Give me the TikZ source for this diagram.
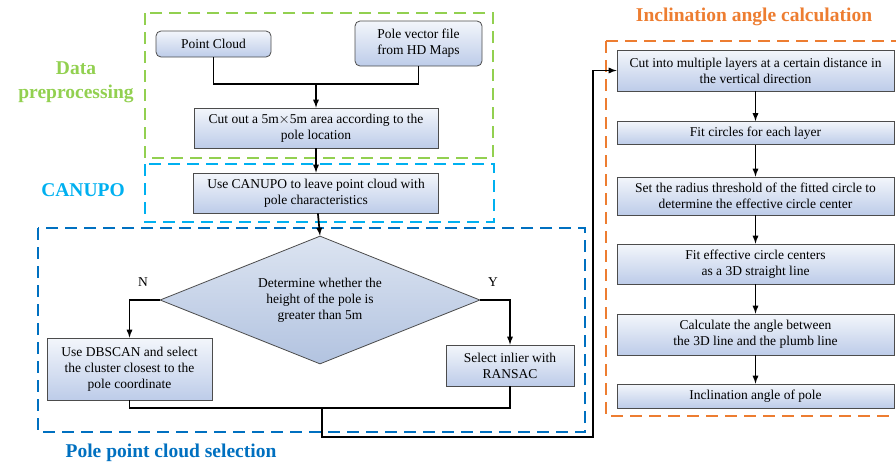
\documentclass[tikz,border=0pt]{standalone}
\usepackage{fontspec}
\setmainfont{Liberation Serif}
\usetikzlibrary{shapes.geometric,arrows}

\definecolor{prepgreen}{HTML}{92D050}
\definecolor{canupoblue}{HTML}{00B0F0}
\definecolor{selblue}{HTML}{0070C0}
\definecolor{incorange}{HTML}{ED7D31}
\definecolor{boxtop}{HTML}{F3F6FB}
\definecolor{boxbot}{HTML}{BDCCE9}
\definecolor{dectop}{HTML}{DCE4F1}
\definecolor{decbot}{HTML}{B2C3E0}

\tikzset{
    procbox/.style={draw=black!70, line width=0.8pt, rectangle, top color=boxtop, bottom color=boxbot,
        align=center, font=\fontsize{13.5}{16}\selectfont, inner sep=1pt},
    srcbox/.style={procbox, rounded corners=5pt},
    decbox/.style={draw=black!70, line width=0.8pt, diamond, shape aspect=2.5, top color=dectop, bottom color=decbot,
        align=center, font=\fontsize{13.5}{16}\selectfont, inner sep=0pt},
    flow/.style={line width=1.7pt, black},
    group/.style={line width=2.8pt, dash pattern=on 12pt off 7pt},
    grouptitle/.style={font=\fontsize{19.5}{24}\selectfont\bfseries, align=center}
}

\begin{document}
\begin{tikzpicture}[x=1pt,y=-1pt]
    \useasboundingbox (0,0) rectangle (896,464);

    % group frames
    \draw[group, prepgreen] (145,13) rectangle (493,158);
    \draw[group, canupoblue] (145,164) rectangle (494,222);
    \draw[group, selblue] (38,228) rectangle (585,432);
    \draw[group, incorange] (606,41) -- (900,41);
    \draw[group, incorange] (606,41) -- (606,416) -- (900,416);

    % group titles
    \node[grouptitle, prepgreen] (tprep) at (76,82) {Data\\preprocessing};
    \node[grouptitle, canupoblue] (tcanupo) at (83,190) {CANUPO};
    \node[grouptitle, selblue] (tsel) at (171,453) {Pole point cloud selection};
    \node[grouptitle, incorange] (tinc) at (754,17) {Inclination angle calculation};

    % left column
    \node[srcbox, minimum width=115, minimum height=26] (pc) at (213.5,44) {Point Cloud};
    \node[srcbox, minimum width=127, minimum height=45] (pv) at (418.5,43.5) {Pole vector file\\from HD Maps};
    \node[procbox, minimum width=244, minimum height=40] (cut) at (316,128) {Cut out a 5m$\times$5m area according to the\\pole location};
    \node[procbox, minimum width=245, minimum height=40] (canupo) at (316,193) {Use CANUPO to leave point cloud with\\pole characteristics};
    \node[decbox, minimum width=320, minimum height=128] (dec) at (320,300) {Determine whether the\\height of the pole is\\greater than 5m};
    \node[procbox, minimum width=165, minimum height=62] (dbscan) at (129.5,369) {Use DBSCAN and select\\the cluster closest to the\\pole coordinate};
    \node[procbox, minimum width=128, minimum height=41] (ransac) at (510,365.5) {Select inlier with\\RANSAC};
    \node[font=\fontsize{13.5}{16}\selectfont] (no) at (143,282) {N};
    \node[font=\fontsize{13.5}{16}\selectfont] (yes) at (493,282) {Y};

    % right column
    \node[procbox, minimum width=277, minimum height=41] (r1) at (755.5,70.5) {Cut into multiple layers at a certain distance in\\the vertical direction};
    \node[procbox, minimum width=277, minimum height=23] (r2) at (755.5,133) {Fit circles for each layer};
    \node[procbox, minimum width=277, minimum height=38] (r3) at (755.5,196) {Set the radius threshold of the fitted circle to\\determine the effective circle center};
    \node[procbox, minimum width=277, minimum height=40] (r4) at (755.5,264) {Fit effective circle centers\\as a 3D straight line};
    \node[procbox, minimum width=277, minimum height=41] (r5) at (755.5,334.5) {Calculate the angle between\\the 3D line and the plumb line};
    \node[procbox, minimum width=277, minimum height=24] (r6) at (755.5,396) {Inclination angle of pole};

    \coordinate (tjoin) at (316,84);
    \coordinate (bjoin) at (322,408);
    \coordinate (lowturn) at (593,437);

    % connectors
    \draw[flow] (pc.south) |- (tjoin) -| (pv.south);
    \draw[flow, -latex] (tjoin) -- (cut.north);
    \draw[flow, -latex] (cut.south) -- (canupo.north);
    \draw[flow, -latex] (canupo) -- (dec.north);
    \draw[flow, -latex] (dec.west) -| (dbscan.north);
    \draw[flow, -latex] (dec.east) -| (ransac.north);
    \draw[flow] (dbscan.south) |- (bjoin) -| (ransac.south);
    \draw[flow, -latex] (bjoin) |- (lowturn) |- (r1.west);
    \draw[flow, -latex] (r1) -- (r2);
    \draw[flow, -latex] (r2) -- (r3);
    \draw[flow, -latex] (r3) -- (r4);
    \draw[flow, -latex] (r4) -- (r5);
    \draw[flow, -latex] (r5) -- (r6);
\end{tikzpicture}
\end{document}
